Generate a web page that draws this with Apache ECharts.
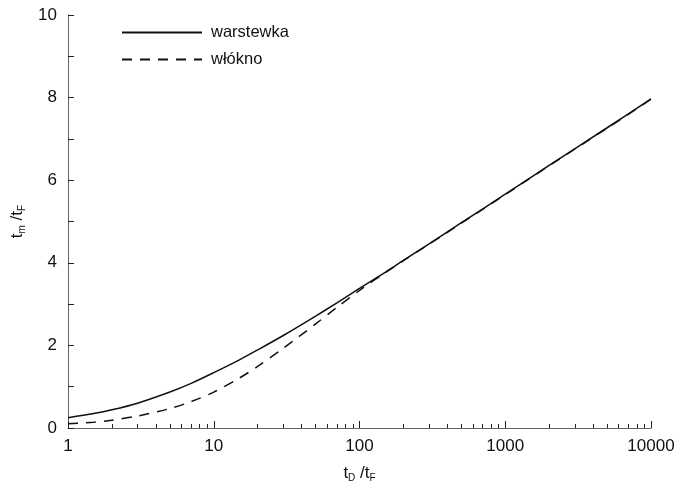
<!DOCTYPE html>
<html>
<head>
<meta charset="utf-8">
<script src="https://cdn.jsdelivr.net/npm/echarts@6/dist/echarts.min.js"></script>
<style>
  html, body { margin: 0; padding: 0; background: #fff; }
  #chart { width: 682px; height: 488px; }
</style>
</head>
<body>
<div id="chart"></div>
<script>
// dane
const xVals = [1, 1.5, 2, 3, 5, 7, 10, 15, 20, 30, 50, 70, 100, 150, 200, 300, 500, 1000, 2000, 5000, 10000];
const warstewka = [0.25, 0.35, 0.44, 0.6, 0.87, 1.08, 1.34, 1.65, 1.89, 2.24, 2.71, 3.03, 3.38, 3.77, 4.06, 4.46, 4.97, 5.66, 6.36, 7.27, 7.97];
const wlokno = [0.1, 0.14, 0.19, 0.29, 0.47, 0.64, 0.87, 1.21, 1.49, 1.93, 2.52, 2.92, 3.33, 3.76, 4.05, 4.45, 4.96, 5.65, 6.35, 7.26, 7.96];
const seriesNames = ['warstewka', 'włókno'];

const font = '"Liberation Sans", Arial, sans-serif';
const chart = echarts.init(document.getElementById('chart'));

const nameRich = {
  t: { fontFamily: font, fontSize: 17, color: '#111' },
  s: { fontFamily: font, fontSize: 10, color: '#111', verticalAlign: 'bottom', padding: [9, 0, 0, 0] }
};

chart.setOption({
  animation: false,
  grid: { left: 68, right: 31, top: 15, bottom: 60 },
  legend: {
    orient: 'vertical',
    left: 116,
    top: 19,
    itemWidth: 80,
    itemHeight: 14,
    itemGap: 10,
    data: seriesNames,
    itemStyle: { opacity: 0 },
    textStyle: { fontFamily: font, fontSize: 16.5, color: '#111', padding: [0, 0, 0, 4] }
  },
  xAxis: {
    type: 'log',
    logBase: 10,
    min: 1,
    max: 10000,
    name: '{t|t}{s|D}{t| /t}{s|F}',
    nameLocation: 'middle',
    nameGap: 36,
    nameTextStyle: { rich: nameRich },
    axisLine: { lineStyle: { color: '#666', width: 1 } },
    axisTick: { inside: true, length: 7, lineStyle: { color: '#222' } },
    minorTick: { show: true, splitNumber: 9, length: 4, lineStyle: { color: '#222' } },
    axisLabel: { fontFamily: font, fontSize: 17, color: '#111', margin: 10, formatter: v => String(v) },
    splitLine: { show: false }
  },
  yAxis: {
    type: 'value',
    min: 0,
    max: 10,
    interval: 2,
    name: '{t|t}{s|m}{t| /t}{s|F}',
    nameLocation: 'middle',
    nameGap: 41,
    nameTextStyle: { rich: nameRich },
    axisLine: { show: true, lineStyle: { color: '#666', width: 1 } },
    axisTick: { show: true, inside: true, length: 6, lineStyle: { color: '#222' } },
    minorTick: { show: true, splitNumber: 2, length: 6, lineStyle: { color: '#222' } },
    axisLabel: { fontFamily: font, fontSize: 17, color: '#111', margin: 11 },
    splitLine: { show: false }
  },
  series: [
    {
      name: seriesNames[0],
      type: 'line',
      data: xVals.map((x, i) => [x, warstewka[i]]),
      smooth: 0.3,
      symbol: 'none',
      lineStyle: { color: '#111', width: 1.5, type: 'solid' },
      itemStyle: { color: '#111' }
    },
    {
      name: seriesNames[1],
      type: 'line',
      data: xVals.map((x, i) => [x, wlokno[i]]),
      smooth: 0.3,
      symbol: 'none',
      lineStyle: { color: '#111', width: 1.5, type: [10, 8] },
      itemStyle: { color: '#111' }
    }
  ]
});
</script>
</body>
</html>
